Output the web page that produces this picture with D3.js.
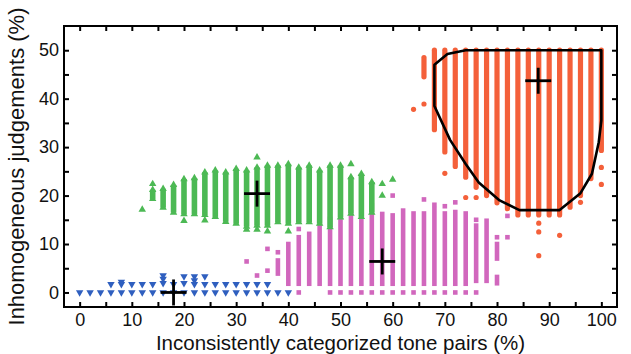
<!DOCTYPE html>
<html>
<head>
<meta charset="utf-8">
<script src="https://cdn.jsdelivr.net/npm/d3@7"></script>
<style>
  body { margin: 0; background: #fff; }
  text { font-family: "Liberation Sans", Arial, sans-serif; fill: #111; }
</style>
</head>
<body>
<div id="chart"></div>
<script>
// tick values
var xTicks = [0, 5, 10, 15, 20, 25, 30, 35, 40, 45, 50, 55, 60, 65, 70, 75, 80, 85, 90, 95, 100];
var yTicks = [0, 5, 10, 15, 20, 25, 30, 35, 40, 45, 50];

// blue (down triangles): [x, y]
var bluePoints = [
    [0, 0], [2, 0], [4, 0],
    [6, 0], [6, 1.7], [8, 0], [8, 1.7], [8, 2.2], [10, 0], [10, 1.7],
    [12, 0], [12, 1.7], [14, 0], [14, 1.7],
    [16, 0], [16, 1.9], [16, 2.8], [16, 3.5], [18, 0], [18, 1.7],
    [20, 0], [20, 1.9], [20, 3.3], [22, 0], [22, 1.7], [22, 2.5], [22, 3.3],
    [24, 0], [24, 1.7], [24, 3.3], [26, 0], [26, 1.7], [28, 0], [28, 1.7],
    [30, 0], [30, 1.7], [32, 0], [32, 1.7], [34, 0], [34, 1.7],
    [36, 0], [36, 1.7], [38, 0], [40, 0]
];

// green (up triangles): columns [x, yMin, yMax] and single points [x, y]
var greenColumns = [
    [14, 19.3, 21.2], [16, 17.5, 21.4], [18, 16.5, 22.2], [20, 16.2, 23.4],
    [22, 16.2, 23.6], [24, 16.0, 24.8], [26, 15.6, 25.2], [28, 14.6, 24.8],
    [30, 14.2, 25.5], [32, 13.6, 25.2], [34, 13.8, 25.8], [36, 13.8, 26.2],
    [38, 14.5, 26.2], [40, 14.2, 26.5], [42, 14.5, 25.8], [44, 14.5, 26.2],
    [46, 14.2, 25.2], [48, 13.5, 26.2], [50, 15.5, 26.2], [52, 16.3, 23.8],
    [54, 15.6, 24.5], [56, 16.5, 22.8]
];
var greenPoints = [
    [12, 17.1], [14, 22.4], [20, 14.8], [24, 14.9], [32, 13.0], [34, 27.9],
    [34, 13.0], [36, 12.6], [40, 12.6], [52, 26.5], [58, 22.4], [58, 20.0], [60, 23.3]
];

// pink (squares)
var pinkColumns = [
    [38, 3.9, 6.6], [40, 1.8, 10.0], [42, 1.8, 11.4], [44, 1.8, 12.1],
    [46, 1.8, 13.5], [48, 1.8, 15.2], [50, 1.8, 16.9], [52, 1.8, 16.6],
    [54, 1.8, 16.2], [56, 1.8, 18.0], [58, 1.8, 16.2], [60, 1.8, 15.9],
    [62, 1.8, 16.9], [64, 1.8, 16.3], [66, 1.8, 16.3], [68, 1.8, 17.2],
    [70, 1.8, 16.3], [72, 1.8, 16.6], [74, 1.8, 16.3], [76, 2.4, 13.8],
    [78, 2.4, 14.8], [80, 7.0, 10.0], [80, 1.9, 3.2]
];
var pinkPoints = [
    [32, 6.4], [34, 3.5], [36, 9.0], [36, 4.5], [38, 8.3], [42, 13.1], [42, 0],
    [48, 0], [50, 0], [52, 0], [54, 0], [56, 0], [58, 0], [60, 0], [62, 0],
    [64, 0], [66, 0], [68, 0], [70, 0], [72, 0], [74, 0], [76, 0],
    [60, 20.0], [66, 19.2], [68, 18.1], [70, 17.8], [72, 18.6], [76, 15.0],
    [80, 11.4], [82, 15.8], [82, 11.4]
];

// red (circles)
var redColumns = [
    [66, 44.5, 48.5], [68, 33.6, 50], [70, 29.0, 50], [72, 26.0, 50],
    [74, 23.8, 50], [76, 21.7, 50], [78, 20.0, 50], [80, 18.5, 50],
    [82, 17.3, 50], [84, 16.0, 50], [86, 16.0, 50], [88, 16.0, 50],
    [90, 16.0, 50], [92, 16.0, 50], [94, 17.6, 50], [96, 20.0, 50],
    [98, 23.5, 50], [100, 29.3, 50]
];
var redPoints = [
    [64, 37.8], [66, 38.9], [70, 24.6], [74, 19.6], [76, 19.6], [88, 14.3],
    [88, 12.5], [88, 7.6], [92, 11.8], [96, 18.6], [100, 25.8], [100, 22.3]
];

// outline around the red cloud
var redBoundary = [
    [68, 38.5], [68, 47], [70.5, 49.2], [74, 50], [100, 50], [100, 35.5],
    [99.5, 31], [98.2, 24.5], [96, 20.5], [92, 17], [84.3, 17], [80.5, 19],
    [76.5, 22.7], [74, 26.5], [71, 31.5]
];

// group means (crosses)
var means = [[18, 0], [34, 20.4], [58, 6.4], [87.9, 43.7]];

var colors = { blue: "#2f5fbf", green: "#4cb954", pink: "#d167bd", red: "#f4603a" };

var width = 631, height = 354;
var margin = { top: 26, right: 14, bottom: 47, left: 64 };

var svg = d3.select("#chart").append("svg")
    .attr("width", width)
    .attr("height", height);

var x = d3.scaleLinear().domain([-3, 103]).range([margin.left, width - margin.right]);
var y = d3.scaleLinear().domain([-3, 55]).range([height - margin.bottom, margin.top]);

var plot = svg.append("g");

// pink
plot.selectAll(".pinkcol").data(pinkColumns).enter().append("rect")
    .attr("x", d => x(d[0]) - 2.3)
    .attr("width", 4.6)
    .attr("y", d => y(d[2]) - 2.3)
    .attr("height", d => y(d[1]) - y(d[2]) + 4.6)
    .attr("fill", colors.pink);
plot.selectAll(".pinkpt").data(pinkPoints).enter().append("rect")
    .attr("x", d => x(d[0]) - 2.3)
    .attr("y", d => y(d[1]) - 2.3)
    .attr("width", 4.6).attr("height", 4.6)
    .attr("fill", colors.pink);

// green
var triUp = d3.symbol().type(d3.symbolTriangle).size(24);
plot.selectAll(".greencol").data(greenColumns).enter().append("rect")
    .attr("x", d => x(d[0]) - 2.8)
    .attr("width", 5.6)
    .attr("y", d => y(d[2]))
    .attr("height", d => y(d[1]) - y(d[2]))
    .attr("fill", colors.green);
var greenEnds = [];
greenColumns.forEach(d => { greenEnds.push([d[0], d[1]]); greenEnds.push([d[0], d[2]]); });
plot.selectAll(".greenpt").data(greenEnds.concat(greenPoints)).enter().append("path")
    .attr("d", triUp)
    .attr("transform", d => "translate(" + x(d[0]) + "," + y(d[1]) + ")")
    .attr("fill", colors.green);

// blue
plot.selectAll(".bluept").data(bluePoints).enter().append("path")
    .attr("d", triUp)
    .attr("transform", d => "translate(" + x(d[0]) + "," + y(d[1]) + ") rotate(180)")
    .attr("fill", colors.blue);

// red
plot.selectAll(".redcol").data(redColumns).enter().append("rect")
    .attr("x", d => x(d[0]) - 2.6)
    .attr("width", 5.2)
    .attr("y", d => y(d[2]) - 2.6)
    .attr("height", d => y(d[1]) - y(d[2]) + 5.2)
    .attr("rx", 2.6)
    .attr("fill", colors.red);
plot.selectAll(".redpt").data(redPoints).enter().append("circle")
    .attr("cx", d => x(d[0]))
    .attr("cy", d => y(d[1]))
    .attr("r", 2.6)
    .attr("fill", colors.red);

// boundary
var line = d3.line().x(d => x(d[0])).y(d => y(d[1])).curve(d3.curveLinearClosed);
plot.append("path")
    .attr("d", line(redBoundary))
    .attr("fill", "none")
    .attr("stroke", "#000")
    .attr("stroke-width", 2.6)
    .attr("stroke-linejoin", "round");

// mean crosses
var arm = 13;
var crosses = plot.selectAll(".cross").data(means).enter().append("g")
    .attr("transform", d => "translate(" + x(d[0]) + "," + y(d[1]) + ")");
crosses.append("line").attr("x1", -arm).attr("x2", arm)
    .attr("stroke", "#000").attr("stroke-width", 2.8);
crosses.append("line").attr("y1", -arm).attr("y2", arm)
    .attr("stroke", "#000").attr("stroke-width", 2.8);

// axes, ticks pointing inward
var fmt = d => (d % 10 === 0 ? d : "");
var bottom = height - margin.bottom, right = width - margin.right;

function styleAxis(g) {
    g.select(".domain").remove();
    g.selectAll(".tick line").attr("stroke", "#000").attr("stroke-width", 2);
    g.selectAll(".tick text").filter(function() { return this.textContent === ""; }).remove();
    g.selectAll(".tick text").attr("font-size", 18).attr("fill", "#111");
}

svg.append("g")
    .attr("transform", "translate(0," + bottom + ")")
    .call(d3.axisBottom(x).tickValues(xTicks).tickFormat(fmt).tickSizeInner(-5).tickSizeOuter(0).tickPadding(6))
    .call(styleAxis);
svg.append("g")
    .attr("transform", "translate(0," + margin.top + ")")
    .call(d3.axisTop(x).tickValues(xTicks).tickFormat("").tickSizeInner(-5).tickSizeOuter(0))
    .call(styleAxis);
svg.append("g")
    .attr("transform", "translate(" + margin.left + ",0)")
    .call(d3.axisLeft(y).tickValues(yTicks).tickFormat(fmt).tickSizeInner(-5).tickSizeOuter(0).tickPadding(5))
    .call(styleAxis);
svg.append("g")
    .attr("transform", "translate(" + right + ",0)")
    .call(d3.axisRight(y).tickValues(yTicks).tickFormat("").tickSizeInner(-5).tickSizeOuter(0))
    .call(styleAxis);

// frame
svg.append("rect")
    .attr("x", margin.left).attr("y", margin.top)
    .attr("width", right - margin.left).attr("height", bottom - margin.top)
    .attr("fill", "none").attr("stroke", "#000").attr("stroke-width", 2);

// axis titles
svg.append("text")
    .attr("x", (margin.left + right) / 2)
    .attr("y", 349.5)
    .attr("text-anchor", "middle")
    .attr("font-size", 20.5)
    .text("Inconsistently categorized tone pairs (%)");
svg.append("text")
    .attr("transform", "translate(24," + (margin.top + bottom) / 2 + ") rotate(-90)")
    .attr("text-anchor", "middle")
    .attr("font-size", 22)
    .text("Inhomogeneous judgements (%)");
</script>
</body>
</html>
